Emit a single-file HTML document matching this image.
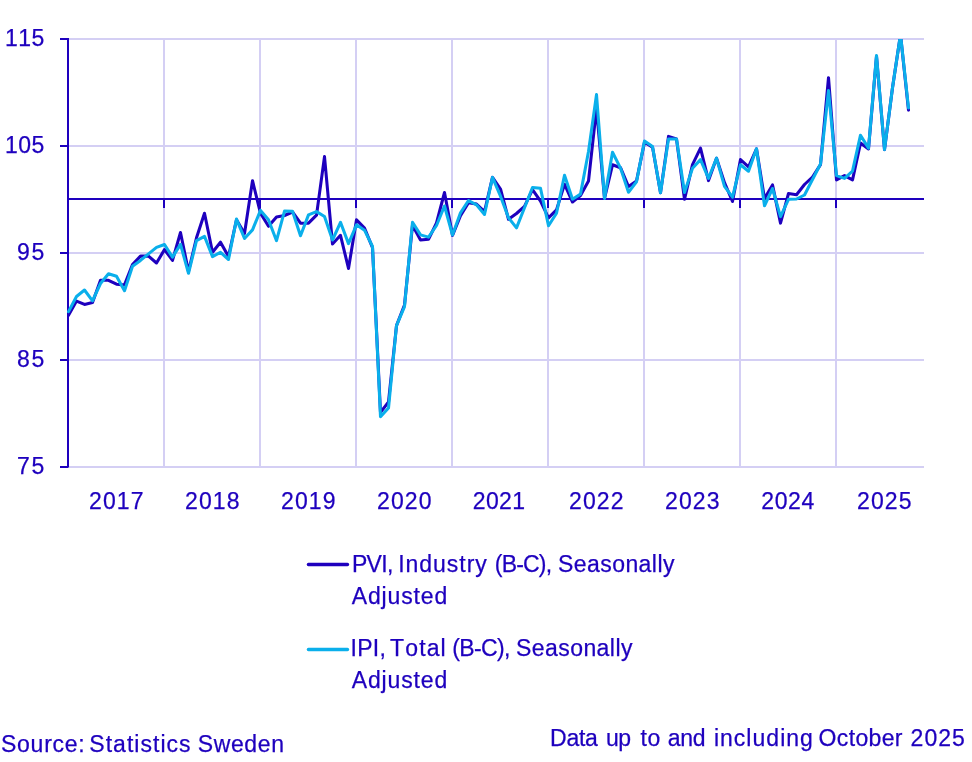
<!DOCTYPE html>
<html lang="en"><head><meta charset="utf-8"><title>Production value index and industrial production index</title>
<style>
html,body{margin:0;padding:0;background:#fff}
body{width:972px;height:762px;position:relative;overflow:hidden;font-family:"Liberation Sans",Arial,sans-serif;color:#1e00be;font-size:23px;font-kerning:none}
.w{position:absolute;white-space:nowrap;line-height:32px;-webkit-text-stroke:0.25px #1e00be}
</style></head><body>
<svg width="972" height="762" viewBox="0 0 972 762" style="position:absolute;left:0;top:0">
<defs><clipPath id="c"><rect x="67" y="39" width="858" height="429"/></clipPath></defs>
<line x1="68" y1="39" x2="924" y2="39" stroke="#d4cff4" stroke-width="2"/>
<line x1="68" y1="146" x2="924" y2="146" stroke="#d4cff4" stroke-width="2"/>
<line x1="68" y1="253" x2="924" y2="253" stroke="#d4cff4" stroke-width="2"/>
<line x1="68" y1="360" x2="924" y2="360" stroke="#d4cff4" stroke-width="2"/>
<line x1="68" y1="467" x2="924" y2="467" stroke="#d4cff4" stroke-width="2"/>
<line x1="164" y1="39" x2="164" y2="467" stroke="#d4cff4" stroke-width="2"/>
<line x1="260" y1="39" x2="260" y2="467" stroke="#d4cff4" stroke-width="2"/>
<line x1="356" y1="39" x2="356" y2="467" stroke="#d4cff4" stroke-width="2"/>
<line x1="452" y1="39" x2="452" y2="467" stroke="#d4cff4" stroke-width="2"/>
<line x1="548" y1="39" x2="548" y2="467" stroke="#d4cff4" stroke-width="2"/>
<line x1="644" y1="39" x2="644" y2="467" stroke="#d4cff4" stroke-width="2"/>
<line x1="740" y1="39" x2="740" y2="467" stroke="#d4cff4" stroke-width="2"/>
<line x1="836" y1="39" x2="836" y2="467" stroke="#d4cff4" stroke-width="2"/>
<line x1="68" y1="199" x2="924" y2="199" stroke="#1e00be" stroke-width="2"/>
<line x1="164" y1="199" x2="164" y2="208" stroke="#1e00be" stroke-width="2"/>
<line x1="260" y1="199" x2="260" y2="208" stroke="#1e00be" stroke-width="2"/>
<line x1="356" y1="199" x2="356" y2="208" stroke="#1e00be" stroke-width="2"/>
<line x1="452" y1="199" x2="452" y2="208" stroke="#1e00be" stroke-width="2"/>
<line x1="548" y1="199" x2="548" y2="208" stroke="#1e00be" stroke-width="2"/>
<line x1="644" y1="199" x2="644" y2="208" stroke="#1e00be" stroke-width="2"/>
<line x1="740" y1="199" x2="740" y2="208" stroke="#1e00be" stroke-width="2"/>
<line x1="836" y1="199" x2="836" y2="208" stroke="#1e00be" stroke-width="2"/>
<line x1="68" y1="38" x2="68" y2="467.5" stroke="#1e00be" stroke-width="2"/>
<line x1="60" y1="39" x2="68" y2="39" stroke="#1e00be" stroke-width="2"/>
<line x1="60" y1="146" x2="68" y2="146" stroke="#1e00be" stroke-width="2"/>
<line x1="60" y1="253" x2="68" y2="253" stroke="#1e00be" stroke-width="2"/>
<line x1="60" y1="360" x2="68" y2="360" stroke="#1e00be" stroke-width="2"/>
<line x1="60" y1="467" x2="68" y2="467" stroke="#1e00be" stroke-width="2"/>
<g clip-path="url(#c)" fill="none" stroke-linejoin="round" stroke-linecap="round" stroke-width="3.05">
<polyline points="68.5,315.2 76.5,301.1 84.5,304.4 92.5,302.5 100.5,280.3 108.5,280.3 116.5,284.2 124.5,284.9 132.5,264.6 140.5,256.1 148.5,256.1 156.5,263.0 164.5,249.6 172.5,260.4 180.5,232.5 188.5,271.5 196.5,237.8 204.5,213.3 212.5,252.3 220.5,242.2 228.5,256.6 236.5,219.8 244.5,233.5 252.5,180.7 260.5,213.3 268.5,226.3 276.5,216.9 284.5,215.5 292.5,212.0 300.5,223.2 308.5,223.2 316.5,215.2 324.5,156.6 332.5,244.0 340.5,235.3 348.5,268.5 356.5,219.8 364.5,228.1 372.5,247.6 380.5,412.4 388.5,402.0 396.5,325.6 404.5,305.0 412.5,225.2 420.5,240.0 428.5,239.3 436.5,223.0 444.5,192.5 452.5,235.4 460.5,215.7 468.5,202.7 476.5,204.1 484.5,211.6 492.5,177.4 500.5,189.0 508.5,219.3 516.5,213.5 524.5,206.3 532.5,189.7 540.5,201.2 548.5,217.8 556.5,209.9 564.5,184.2 572.5,202.0 580.5,195.6 588.5,181.0 596.5,108.3 604.5,198.4 612.5,164.8 620.5,167.7 628.5,186.5 636.5,181.0 644.5,142.1 652.5,147.1 660.5,192.7 668.5,136.4 676.5,138.9 684.5,199.3 692.5,164.7 700.5,148.1 708.5,180.6 716.5,158.2 724.5,182.7 732.5,201.5 740.5,159.6 748.5,166.8 756.5,148.8 764.5,198.6 772.5,184.9 780.5,223.1 788.5,193.5 796.5,194.7 804.5,184.5 812.5,177.0 820.5,164.7 828.5,77.7 836.5,179.9 844.5,175.6 852.5,179.9 860.5,143.1 868.5,148.9 876.5,56.5 884.5,149.6 892.5,87.7 900.5,34.5 908.5,110.1" stroke="#1e00be"/>
<polyline points="68.5,311.6 76.5,296.5 84.5,290.0 92.5,300.8 100.5,283.5 108.5,273.7 116.5,276.3 124.5,290.7 132.5,266.2 140.5,260.4 148.5,253.9 156.5,247.4 164.5,244.5 172.5,257.2 180.5,244.4 188.5,273.3 196.5,240.7 204.5,236.4 212.5,256.6 220.5,252.3 228.5,259.5 236.5,219.1 244.5,238.5 252.5,229.9 260.5,210.4 268.5,219.8 276.5,240.7 284.5,211.1 292.5,211.3 300.5,235.8 308.5,214.9 316.5,211.6 324.5,216.5 332.5,240.0 340.5,222.3 348.5,243.6 356.5,224.8 364.5,230.2 372.5,246.5 380.5,416.7 388.5,408.0 396.5,325.6 404.5,306.7 412.5,222.3 420.5,234.9 428.5,237.1 436.5,225.5 444.5,206.0 452.5,235.0 460.5,212.8 468.5,200.5 476.5,204.8 484.5,214.5 492.5,177.4 500.5,196.2 508.5,217.8 516.5,227.9 524.5,207.7 532.5,187.5 540.5,188.2 548.5,225.8 556.5,213.2 564.5,175.3 572.5,199.2 580.5,194.1 588.5,151.5 596.5,94.6 604.5,198.4 612.5,152.2 620.5,168.1 628.5,192.2 636.5,181.8 644.5,141.0 652.5,146.4 660.5,192.7 668.5,138.9 676.5,138.9 684.5,192.4 692.5,168.3 700.5,159.6 708.5,178.4 716.5,158.2 724.5,186.3 732.5,197.2 740.5,164.7 748.5,171.2 756.5,148.8 764.5,205.8 772.5,188.5 780.5,216.6 788.5,199.3 796.5,199.0 804.5,195.0 812.5,179.5 820.5,164.0 828.5,90.6 836.5,175.6 844.5,178.4 852.5,171.2 860.5,135.2 868.5,148.1 876.5,55.5 884.5,149.6 892.5,87.7 900.5,34.5 908.5,107.9" stroke="#0aafeb"/>
</g>
<line x1="308.4" y1="564.5" x2="347.5" y2="564.5" stroke="#1e00be" stroke-width="3.3" stroke-linecap="round"/>
<line x1="308.4" y1="649.5" x2="347.5" y2="649.5" stroke="#0aafeb" stroke-width="3.3" stroke-linecap="round"/>
</svg>
<div class="legend-item"><span class="w" style="left:352.00px;top:548px;letter-spacing:-0.724px">PVI,</span> <span class="w" style="left:398.20px;top:548px;letter-spacing:0.969px">Industry</span> <span class="w" style="left:494.80px;top:548px;letter-spacing:-0.806px">(B-C),</span> <span class="w" style="left:557.90px;top:548px;letter-spacing:0.454px">Seasonally</span> <span class="w" style="left:351.80px;top:580px;letter-spacing:0.841px">Adjusted</span></div>
<div class="legend-item"><span class="w" style="left:350.60px;top:632px;letter-spacing:0.226px">IPI,</span> <span class="w" style="left:390.00px;top:632px;letter-spacing:1.144px">Total</span> <span class="w" style="left:452.30px;top:632px;letter-spacing:-0.666px">(B-C),</span> <span class="w" style="left:515.90px;top:632px;letter-spacing:0.454px">Seasonally</span> <span class="w" style="left:351.80px;top:664px;letter-spacing:0.841px">Adjusted</span></div>
<div class="source"><span class="w" style="left:1.00px;top:728px;letter-spacing:0.738px">Source:</span> <span class="w" style="left:89.30px;top:728px;letter-spacing:1.031px">Statistics</span> <span class="w" style="left:197.70px;top:728px;letter-spacing:0.635px">Sweden</span></div>
<div class="note"><span class="w" style="left:550.00px;top:722px;letter-spacing:-0.231px">Data</span> <span class="w" style="left:605.90px;top:722px;letter-spacing:-0.492px">up</span> <span class="w" style="left:640.60px;top:722px;letter-spacing:0.610px">to</span> <span class="w" style="left:667.80px;top:722px;letter-spacing:-0.342px">and</span> <span class="w" style="left:713.90px;top:722px;letter-spacing:1.026px">including</span> <span class="w" style="left:818.60px;top:722px;letter-spacing:0.341px">October</span> <span class="w" style="left:910.60px;top:722px;letter-spacing:1.008px">2025</span></div>
<div class="x-labels"><span class="w" style="left:89.00px;top:485px;letter-spacing:1.108px">2017</span> <span class="w" style="left:185.00px;top:485px;letter-spacing:1.108px">2018</span> <span class="w" style="left:281.00px;top:485px;letter-spacing:1.108px">2019</span> <span class="w" style="left:377.00px;top:485px;letter-spacing:1.108px">2020</span> <span class="w" style="left:472.80px;top:485px;letter-spacing:0.342px">2021</span> <span class="w" style="left:569.00px;top:485px;letter-spacing:1.108px">2022</span> <span class="w" style="left:665.00px;top:485px;letter-spacing:1.108px">2023</span> <span class="w" style="left:761.20px;top:485px;letter-spacing:0.675px">2024</span> <span class="w" style="left:857.00px;top:485px;letter-spacing:1.108px">2025</span></div>
<div class="y-labels"><span class="w" style="left:4.90px;top:22px;letter-spacing:0.508px">115</span> <span class="w" style="left:4.90px;top:129px;letter-spacing:0.508px">105</span> <span class="w" style="left:16.90px;top:236px;letter-spacing:1.808px">95</span> <span class="w" style="left:16.90px;top:343px;letter-spacing:1.808px">85</span> <span class="w" style="left:16.90px;top:450px;letter-spacing:1.808px">75</span></div>
</body></html>
